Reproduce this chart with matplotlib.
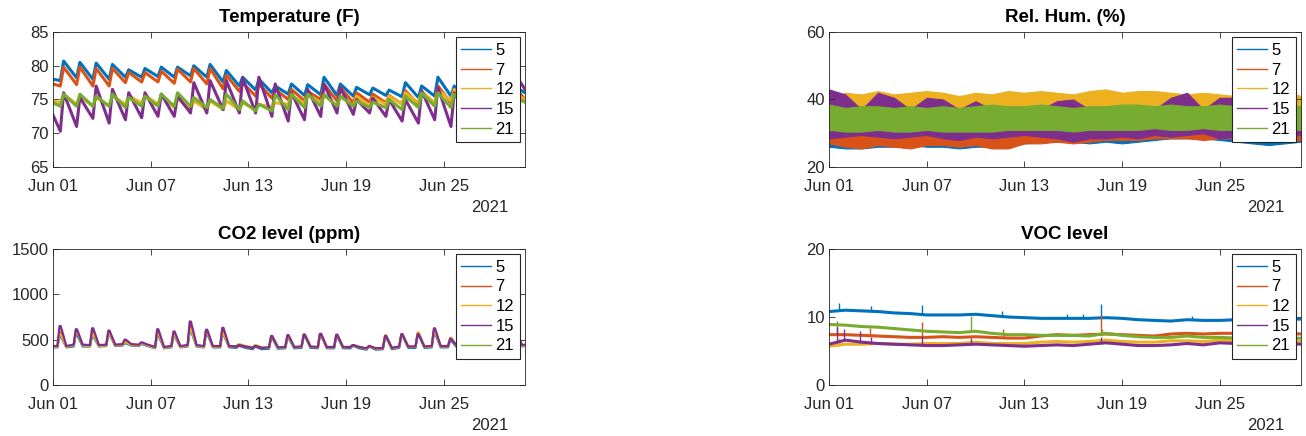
import datetime
import matplotlib
matplotlib.use('Agg')
matplotlib.rcParams.update({
    "font.family": ["Liberation Sans", "DejaVu Sans"],
    "font.size": 12.0,
    "axes.titlesize": 13.5,
    "axes.titleweight": "bold",
    "xtick.labelsize": 12.0,
    "ytick.labelsize": 12.0,
    "legend.fontsize": 12.0,
    "axes.edgecolor": "#262626",
    "xtick.color": "#262626",
    "ytick.color": "#262626",
})
from matplotlib import pyplot as plt
from matplotlib import dates as mdates
from matplotlib.lines import Line2D
import numpy as np

sensors = ['5', '7', '12', '15', '21']
colors = ['#0072BD', '#D95319', '#EDB120', '#7E2F8E', '#77AC30']
start = datetime.datetime(2021, 6, 1)
n_days = 29

# ---- Temperature (F): daily low / high per sensor (Jun 01 .. Jun 29)
temp_lo_5 = [77.8, 78.2, 78.0, 78.0, 78.3, 78.3, 78.4, 78.3, 78.5, 78.3, 77.6, 77.0, 76.4, 76.0, 75.8,
             75.6, 75.7, 75.6, 75.5, 75.7, 75.6, 75.4, 75.3, 75.5, 75.5, 75.2, 75.4, 75.3, 75.2]
temp_hi_5 = [80.7, 80.5, 80.4, 80.2, 79.4, 79.6, 79.8, 79.8, 80.0, 80.2, 79.3, 78.3, 78.0, 77.0, 77.3,
             77.2, 78.3, 77.3, 76.8, 76.7, 76.4, 77.5, 77.0, 78.3, 77.0, 76.8, 77.3, 77.0, 76.5]
temp_lo_7 = [77.0, 77.2, 77.0, 77.0, 77.5, 77.6, 77.6, 77.4, 77.6, 77.3, 76.6, 76.2, 75.5, 75.2, 75.0,
             74.8, 75.0, 74.8, 74.5, 74.6, 74.5, 74.3, 74.3, 74.3, 74.5, 74.3, 74.5, 74.5, 74.3]
temp_hi_7 = [79.8, 79.8, 79.6, 79.6, 79.0, 79.0, 79.2, 79.5, 79.6, 79.6, 78.6, 77.5, 77.3, 76.5, 76.5,
             76.2, 77.3, 76.8, 76.0, 75.8, 75.6, 76.3, 76.0, 77.0, 76.0, 76.0, 76.5, 76.2, 76.0]
temp_lo_12 = [74.5, 74.3, 74.0, 74.0, 74.3, 74.5, 74.3, 73.8, 73.5, 73.5, 73.5, 73.5, 73.5, 73.8, 74.3,
              74.5, 74.5, 74.0, 74.0, 74.0, 74.3, 74.3, 74.5, 74.5, 74.8, 74.5, 74.5, 74.5, 74.3]
temp_hi_12 = [75.8, 75.5, 75.3, 75.5, 75.5, 75.6, 75.6, 75.2, 74.8, 74.8, 74.8, 74.5, 74.3, 74.5, 75.5,
              75.8, 75.8, 75.5, 75.5, 75.3, 75.5, 76.0, 76.2, 76.5, 76.5, 76.5, 76.0, 76.0, 75.5]
temp_lo_15 = [70.3, 71.0, 72.2, 71.5, 72.0, 72.3, 72.5, 72.5, 73.0, 73.0, 73.5, 73.0, 73.0, 72.5, 71.8,
              72.0, 72.5, 73.0, 72.8, 73.0, 72.5, 71.8, 71.5, 72.0, 71.0, 72.5, 73.0, 73.5, 74.0]
temp_hi_15 = [76.0, 75.3, 77.0, 76.5, 76.0, 76.0, 75.8, 75.5, 77.5, 77.8, 77.8, 78.2, 78.3, 77.3, 76.0,
              76.5, 77.3, 76.8, 75.0, 75.2, 75.0, 75.0, 76.3, 76.8, 76.0, 75.5, 76.5, 77.5, 77.8]
temp_lo_21 = [74.0, 74.0, 74.0, 74.0, 73.8, 74.0, 74.0, 74.0, 74.0, 73.8, 73.7, 73.5, 73.3, 73.3, 73.5,
              73.8, 74.0, 74.0, 74.0, 73.8, 73.8, 73.5, 73.8, 74.0, 73.8, 73.8, 74.0, 74.0, 74.0]
temp_hi_21 = [75.8, 75.8, 75.5, 75.8, 75.3, 75.5, 75.8, 76.0, 75.3, 75.0, 75.8, 74.8, 74.3, 75.7, 75.8,
              75.8, 75.7, 75.5, 74.8, 74.6, 75.0, 75.5, 76.0, 76.0, 75.8, 75.5, 75.5, 75.5, 75.0]
temp_first = [78.0, 77.3, 74.8, 72.7, 74.5]
temp_last = [76.0, 75.0, 75.0, 76.5, 74.6]

# ---- Rel. Hum. (%): daily band (min / max) per sensor, Jun 01 .. Jun 30
rh_lo_5 = [26.0, 25.5, 25.5, 26.0, 26.0, 26.5, 26.0, 26.0, 25.5, 26.0, 26.0, 26.0, 27.0, 27.5, 27.5,
           27.5, 27.0, 27.5, 27.0, 27.5, 28.0, 28.5, 28.5, 28.5, 28.0, 27.5, 27.0, 26.5, 27.0, 27.5]
rh_hi_5 = [33.0] * 30
rh_lo_7 = [27.0, 26.0, 25.5, 26.5, 26.0, 25.5, 26.5, 26.5, 26.0, 26.5, 25.5, 25.5, 27.0, 27.0, 27.5,
           27.0, 27.5, 28.0, 28.0, 28.0, 28.5, 28.5, 28.5, 28.0, 28.5, 28.5, 28.0, 27.5, 27.5, 28.0]
rh_hi_7 = [33.0] * 30
rh_lo_12 = [33.0] * 30
rh_hi_12 = [40.0, 42.0, 41.5, 42.5, 41.5, 42.0, 42.5, 42.0, 41.0, 42.0, 41.5, 42.5, 42.0, 42.5, 42.0,
            41.5, 42.5, 43.0, 42.0, 42.5, 42.5, 42.0, 41.5, 42.0, 41.5, 41.0, 41.5, 42.0, 42.5, 41.0]
rh_lo_15 = [28.5, 29.0, 29.5, 29.0, 28.5, 29.0, 29.5, 28.5, 28.0, 29.0, 28.5, 29.0, 29.5, 29.0, 28.5,
            27.5, 28.5, 28.5, 29.0, 28.5, 29.5, 29.0, 29.5, 30.0, 28.5, 29.0, 29.0, 28.5, 29.0, 29.5]
rh_hi_15 = [43.0, 41.5, 37.0, 42.0, 40.5, 37.0, 40.5, 40.0, 37.0, 39.5, 37.0, 37.0, 37.0, 37.0, 39.5,
            40.0, 37.0, 37.5, 37.0, 37.0, 37.0, 40.5, 42.0, 37.0, 40.5, 40.5, 37.0, 37.0, 40.5, 37.0]
rh_lo_21 = [31.0, 30.5, 30.5, 31.0, 30.5, 30.5, 31.0, 30.5, 30.5, 30.5, 30.5, 31.0, 31.0, 31.0, 31.0,
            30.5, 31.0, 31.0, 31.0, 31.0, 31.5, 31.0, 31.0, 31.5, 31.0, 31.0, 31.0, 31.0, 31.0, 31.0]
rh_hi_21 = [38.5, 37.5, 38.0, 38.0, 37.5, 38.0, 37.5, 38.0, 37.5, 38.0, 38.5, 38.0, 38.0, 38.5, 38.0,
            37.5, 38.0, 38.0, 38.5, 38.5, 38.0, 38.5, 38.0, 38.0, 38.5, 38.0, 38.0, 38.5, 38.5, 38.0]

# ---- CO2 level (ppm): night base / daytime peak per sensor (sensor 21 has no CO2 data)
co2_base_5 = [415, 425, 425, 430, 435, 430, 405, 415, 425, 415, 415, 410, 395, 400, 405,
              410, 405, 405, 405, 390, 395, 410, 410, 415, 415, 395, 395, 405, 425]
co2_peak_5 = [540, 560, 540, 560, 460, 450, 550, 540, 600, 570, 560, 430, 420, 520, 520,
              540, 550, 530, 430, 420, 530, 550, 550, 570, 490, 400, 400, 450, 540]
co2_base_7 = [425, 440, 435, 440, 445, 440, 415, 425, 435, 425, 425, 420, 405, 410, 415,
              420, 415, 415, 415, 400, 405, 420, 420, 425, 425, 405, 405, 415, 435]
co2_peak_7 = [580, 600, 590, 585, 480, 460, 590, 570, 650, 600, 600, 440, 430, 530, 540,
              550, 560, 545, 435, 425, 535, 555, 565, 600, 505, 410, 410, 465, 570]
co2_base_12 = [420, 435, 430, 435, 440, 435, 410, 420, 430, 420, 425, 430, 415, 410, 415,
               420, 415, 415, 420, 400, 405, 420, 420, 425, 425, 405, 405, 415, 430]
co2_peak_12 = [560, 590, 560, 570, 470, 460, 570, 555, 620, 590, 570, 450, 440, 540, 530,
               560, 560, 550, 440, 430, 550, 560, 580, 590, 520, 420, 420, 480, 560]
co2_base_15 = [430, 445, 440, 445, 450, 445, 420, 430, 440, 430, 430, 425, 410, 415, 420,
               425, 420, 420, 420, 405, 410, 425, 425, 430, 430, 410, 410, 420, 440]
co2_peak_15 = [650, 615, 625, 600, 500, 470, 615, 590, 700, 610, 630, 440, 430, 540, 550,
               555, 565, 555, 440, 430, 540, 560, 560, 625, 510, 420, 420, 470, 590]
co2_last = [430, 440, 435, 445]

# ---- VOC level: daily level per sensor (Jun 01 .. Jun 30) and short spikes (day, from, to)
voc_5 = [10.8, 11.0, 10.9, 10.8, 10.6, 10.5, 10.3, 10.3, 10.3, 10.4, 10.2, 10.0, 9.9, 9.8, 9.8,
         9.8, 9.8, 9.9, 9.8, 9.6, 9.5, 9.4, 9.6, 9.5, 9.5, 9.6, 9.6, 9.6, 9.7, 9.7]
voc_7 = [7.4, 7.4, 7.3, 7.2, 7.1, 7.0, 7.0, 7.1, 7.0, 7.1, 7.0, 6.9, 6.9, 7.2, 7.4,
         7.3, 7.4, 7.5, 7.4, 7.3, 7.2, 7.5, 7.6, 7.5, 7.6, 7.6, 7.5, 7.5, 7.6, 7.5]
voc_12 = [5.7, 6.0, 6.0, 6.1, 6.0, 6.0, 6.1, 6.1, 6.1, 6.3, 6.1, 6.1, 6.1, 6.3, 6.4,
          6.3, 6.4, 6.6, 6.4, 6.3, 6.3, 6.5, 6.5, 6.4, 6.6, 6.5, 6.5, 6.5, 6.4, 6.4]
voc_15 = [6.0, 6.6, 6.3, 6.1, 6.0, 5.9, 5.8, 5.8, 5.9, 6.0, 5.9, 5.8, 5.7, 5.8, 5.9,
          5.8, 6.0, 6.2, 6.0, 5.8, 5.8, 5.9, 6.1, 5.9, 6.2, 6.1, 6.0, 6.0, 6.1, 6.0]
voc_21 = [8.9, 8.8, 8.6, 8.5, 8.3, 8.1, 7.9, 7.8, 7.7, 7.9, 7.6, 7.4, 7.4, 7.3, 7.3,
          7.3, 7.2, 7.6, 7.3, 7.1, 7.0, 7.0, 7.2, 7.0, 7.0, 6.9, 6.9, 6.8, 6.8, 6.9]
voc_spikes_5 = [(0.6, 10.9, 12.0), (2.6, 10.8, 11.6), (5.7, 10.4, 11.8), (10.6, 10.2, 10.9),
                (14.6, 9.8, 10.5), (15.6, 9.8, 10.4), (16.7, 9.9, 11.9), (22.3, 9.5, 10.2)]
voc_spikes_7 = [(0.5, 7.4, 9.4), (2.5, 7.3, 8.4), (5.7, 7.0, 9.2), (10.7, 7.0, 8.2), (16.7, 7.4, 10.3)]
voc_spikes_12 = [(0.6, 5.8, 6.9)]
voc_spikes_15 = [(0.5, 6.2, 8.6), (0.9, 6.5, 8.3), (1.9, 6.2, 8.0), (2.6, 6.1, 7.0),
                 (5.7, 5.8, 7.2), (8.7, 5.9, 6.9), (16.7, 6.1, 7.0)]
voc_spikes_21 = [(8.7, 7.8, 10.1), (25.3, 7.0, 9.2), (16.8, 7.4, 8.2)]


def to_dates(days):
	return mdates.date2num(start) + np.asarray(days, dtype=float)


def daily_cycle(first, lows, highs, last, t_low, t_high):
	# low then high once a day, sharp rise and slow decay
	d = np.arange(len(lows))
	t = np.concatenate([[0.0], np.column_stack([d + t_low, d + t_high]).ravel(), [n_days]])
	v = np.concatenate([[first], np.column_stack([lows, highs]).ravel(), [last]])
	return to_dates(t), v


def co2_cycle(bases, peaks, last):
	# night base, fast rise to the daytime peak, then a slower fall back
	d = np.arange(len(bases))
	t = np.concatenate([[0.0], np.column_stack([d + 0.27, d + 0.40, d + 0.47, d + 0.82]).ravel(), [n_days]])
	v = np.concatenate([[bases[0]], np.column_stack([bases, peaks, peaks, bases]).ravel(), [last]])
	return to_dates(t), v


def style_axes(ax, title, ylim, yticks):
	ax.set_title(title, pad=7.5)
	ax.set_xlim(to_dates(0), to_dates(n_days))
	ax.set_ylim(*ylim)
	ax.set_yticks(yticks)
	ax.xaxis.set_major_locator(mdates.DayLocator(bymonthday=[1, 7, 13, 19, 25]))
	ax.xaxis.set_major_formatter(mdates.DateFormatter('%b %d'))
	ax.tick_params(direction='in', length=4, width=0.6, top=True, right=True)
	ax.tick_params(axis='x', pad=8.5)
	ax.tick_params(axis='y', pad=3)
	for s in ax.spines.values():
		s.set_linewidth(0.6)
	handles = [Line2D([], [], color=c, lw=1.0) for c in colors]
	leg = ax.legend(handles, sensors, loc='upper right', fancybox=False, edgecolor='#262626',
	                framealpha=1.0, handlelength=1.8, handletextpad=0.25, borderpad=0.35,
	                labelspacing=0.28, borderaxespad=0.3)
	leg.get_frame().set_linewidth(0.8)
	ax.annotate('2021', xy=(1, 0), xycoords='axes fraction', xytext=(-12, -29),
	            textcoords='offset points', ha='right', va='center', color='#262626')


fig = plt.figure(figsize=(13.06, 4.36), dpi=100)
ax_t = fig.add_axes([0.0406, 0.6170, 0.3614, 0.3096])
ax_h = fig.add_axes([0.6348, 0.6170, 0.3614, 0.3096])
ax_c = fig.add_axes([0.0406, 0.1170, 0.3614, 0.3119])
ax_v = fig.add_axes([0.6348, 0.1170, 0.3614, 0.3119])

# temperature
temp_lo = [temp_lo_5, temp_lo_7, temp_lo_12, temp_lo_15, temp_lo_21]
temp_hi = [temp_hi_5, temp_hi_7, temp_hi_12, temp_hi_15, temp_hi_21]
for i, c in enumerate(colors):
	x, y = daily_cycle(temp_first[i], temp_lo[i], temp_hi[i], temp_last[i], 0.45, 0.65)
	ax_t.plot(x, y, color=c, lw=2.2)
style_axes(ax_t, 'Temperature (F)', (65, 85), [65, 70, 75, 80, 85])

# relative humidity
rh_lo = [rh_lo_5, rh_lo_7, rh_lo_12, rh_lo_15, rh_lo_21]
rh_hi = [rh_hi_5, rh_hi_7, rh_hi_12, rh_hi_15, rh_hi_21]
rh_x = to_dates(np.arange(n_days + 1))
for i, c in enumerate(colors):
	ax_h.fill_between(rh_x, rh_lo[i], rh_hi[i], color=c, lw=0.8, edgecolor=c)
style_axes(ax_h, 'Rel. Hum. (%)', (20, 60), [20, 40, 60])

# co2
co2_base = [co2_base_5, co2_base_7, co2_base_12, co2_base_15]
co2_peak = [co2_peak_5, co2_peak_7, co2_peak_12, co2_peak_15]
for i in range(4):
	x, y = co2_cycle(co2_base[i], co2_peak[i], co2_last[i])
	ax_c.plot(x, y, color=colors[i], lw=1.6)
style_axes(ax_c, 'CO2 level (ppm)', (0, 1500), [0, 500, 1000, 1500])

# voc
voc = [voc_5, voc_7, voc_12, voc_15, voc_21]
voc_spikes = [voc_spikes_5, voc_spikes_7, voc_spikes_12, voc_spikes_15, voc_spikes_21]
voc_x = to_dates(np.arange(n_days + 1))
for i, c in enumerate(colors):
	ax_v.plot(voc_x, voc[i], color=c, lw=2.2)
	sp = np.array(voc_spikes[i])
	ax_v.vlines(to_dates(sp[:, 0]), sp[:, 1], sp[:, 2], color=c, lw=1.0)
style_axes(ax_v, 'VOC level', (0, 20), [0, 10, 20])

fig.savefig('out.png', dpi=100)
